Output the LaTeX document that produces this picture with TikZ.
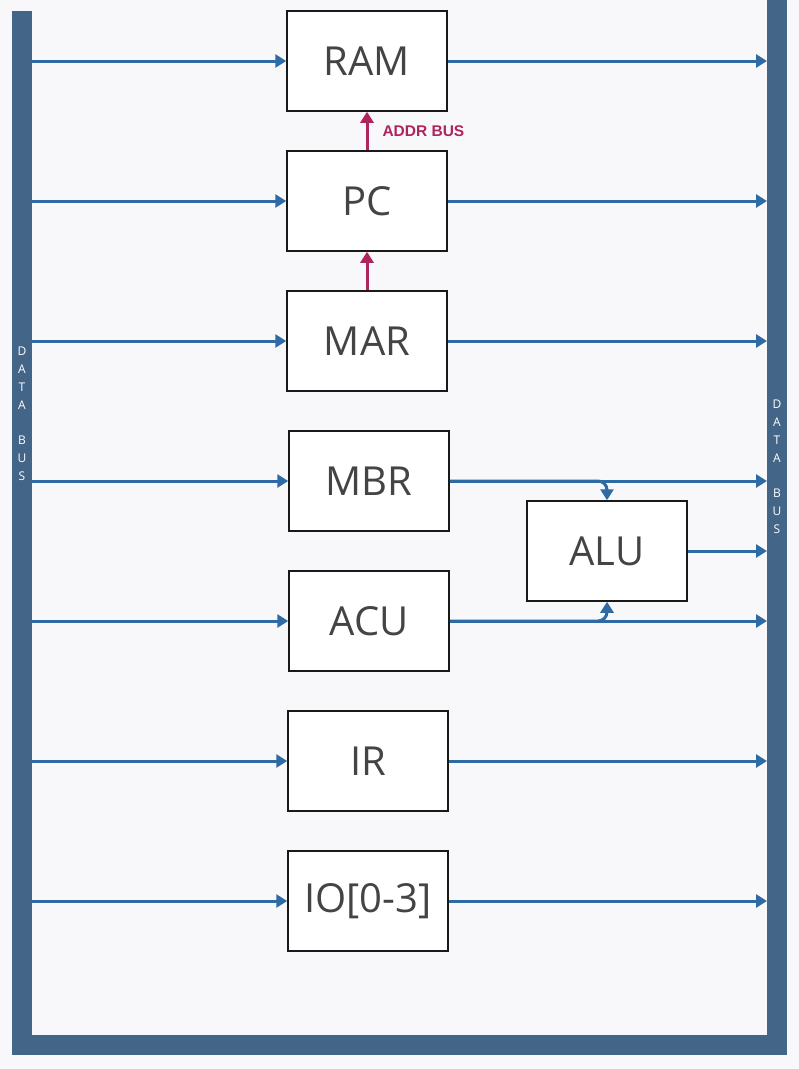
\documentclass[tikz,border=0pt]{standalone}
\usepackage{fontspec}
\setmainfont{Open Sans}
\newfontfamily\addrfont{Liberation Sans}
\usetikzlibrary{arrows.meta}

\definecolor{bgcol}{HTML}{F8F8FB}
\definecolor{buscol}{HTML}{436588}
\definecolor{linecol}{HTML}{2E6AA3}
\definecolor{addrcol}{HTML}{B0245E}
\definecolor{txtcol}{HTML}{444444}

\tikzset{
  regbox/.style={draw=black!90, line width=1.5pt, fill=white, minimum width=160pt,
    minimum height=100pt, inner sep=0pt, text=txtcol, font=\fontsize{40}{42}\selectfont},
  databus/.style={draw=linecol, line width=3pt, -{Triangle[length=11pt,width=13pt]}},
  addrbus/.style={draw=addrcol, line width=3pt, -{Triangle[length=11pt,width=13pt]}},
  buslabel/.style={text=white, align=center, inner sep=0pt, font=\fontsize{12}{17.8}\selectfont}
}

\begin{document}
\begin{tikzpicture}[x=1pt, y=-1pt]
% Background
\fill[bgcol] (0,0) rectangle (799,1069);
\useasboundingbox (0,0) rectangle (799,1069);

% Data bus
\fill[buscol] (12,11) rectangle (32,1055);
\fill[buscol] (767,0) rectangle (787,1055);
\fill[buscol] (12,1035) rectangle (787,1055);
\node[buslabel] (lbus) at (22,414) {D\\A\\T\\A\\[17.8pt]B\\U\\S};
\node[buslabel] (rbus) at (777,467) {D\\A\\T\\A\\[17.8pt]B\\U\\S};

% Registers
\foreach \name/\text/\x/\y in {ram/RAM/367/61, pc/PC/367/201, mar/MAR/367/341,
    mbr/MBR/369/481, acu/ACU/369/621, ir/IR/368/761, io/{IO[0-3]}/368/901} {
    \node[regbox] (\name) at (\x,\y) {\text};
    \coordinate (\name-in) at (32,\y);
    \coordinate (\name-out) at (767,\y);
    \draw[databus] (\name-in) -- (\name.west);
    \draw[databus] (\name.east) -- (\name-out);
}

% ALU
\node[regbox] (alu) at (607,551) {ALU};
\coordinate (alu-out) at (767,551);
\draw[databus] (alu.east) -- (alu-out);
\draw[databus, rounded corners=9pt] (mbr.east) -| (alu.north);
\draw[databus, rounded corners=9pt] (acu.east) -| (alu.south);

% Address bus
\draw[addrbus] (mar.north) -- (pc.south);
\draw[addrbus] (pc.north) -- (ram.south);
\node[text=addrcol, anchor=west, font=\addrfont\bfseries\fontsize{15.5}{17}\selectfont]
  (addr) at (379,131) {ADDR BUS};

\end{tikzpicture}
\end{document}
